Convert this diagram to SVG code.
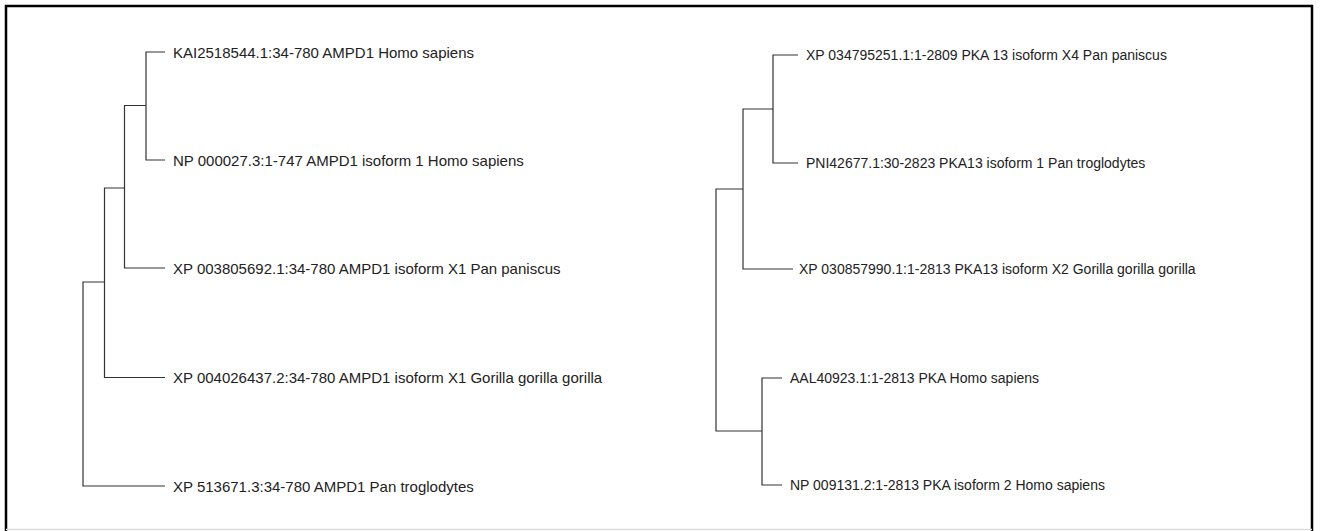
<svg xmlns="http://www.w3.org/2000/svg" width="1321" height="531" viewBox="0 0 1321 531">
  <style>
    .edge { fill: none; stroke: #333; stroke-width: 1.2; }
    .lbl { font-family: "Liberation Sans", Arial, sans-serif; font-size: 14px; fill: #222; }
    .lbl-l { font-size: 15px; }
    .frame { fill: none; stroke: #000; stroke-width: 2.5; }
  </style>
  <rect x="0" y="0" width="1321" height="531" fill="#fff"/>
  <g id="frame">
    <path class="frame" d="M6,531 V6 H1312 V531"/>
    <line x1="6" y1="529.5" x2="1312" y2="529.5" stroke="#ddd" stroke-width="1.5"/>
  </g>
  <g id="connectors">
    <!-- left tree -->
    <path class="edge" d="M165,52 H146 V160 H165"/>
    <path class="edge" d="M146,105.5 H124.5 V268 H165"/>
    <path class="edge" d="M124.5,188 H104.5 V377.5 H165"/>
    <path class="edge" d="M104.5,282 H83 V486 H165"/>
    <!-- right tree -->
    <path class="edge" d="M798,55 H773 V163 H798"/>
    <path class="edge" d="M773,109 H743 V269 H793"/>
    <path class="edge" d="M743,189 H716 V431 H762"/>
    <path class="edge" d="M782,378 H762 V485 H782"/>
  </g>
  <g id="leaf-KAI2518544"><text class="lbl lbl-l" x="173" y="57.5">KAI2518544.1:34-780 AMPD1 Homo sapiens</text></g>
  <g id="leaf-NP000027"><text class="lbl lbl-l" x="173" y="165.5">NP 000027.3:1-747 AMPD1 isoform 1 Homo sapiens</text></g>
  <g id="leaf-XP003805692"><text class="lbl lbl-l" x="173" y="273.5">XP 003805692.1:34-780 AMPD1 isoform X1 Pan paniscus</text></g>
  <g id="leaf-XP004026437"><text class="lbl lbl-l" x="173" y="383">XP 004026437.2:34-780 AMPD1 isoform X1 Gorilla gorilla gorilla</text></g>
  <g id="leaf-XP513671"><text class="lbl lbl-l" x="173" y="491.5">XP 513671.3:34-780 AMPD1 Pan troglodytes</text></g>
  <g id="leaf-XP034795251"><text class="lbl" x="806" y="60">XP 034795251.1:1-2809 PKA 13 isoform X4 Pan paniscus</text></g>
  <g id="leaf-PNI42677"><text class="lbl" x="806" y="168">PNI42677.1:30-2823 PKA13 isoform 1 Pan troglodytes</text></g>
  <g id="leaf-XP030857990"><text class="lbl" x="799" y="274">XP 030857990.1:1-2813 PKA13 isoform X2 Gorilla gorilla gorilla</text></g>
  <g id="leaf-AAL40923"><text class="lbl" x="790" y="383">AAL40923.1:1-2813 PKA Homo sapiens</text></g>
  <g id="leaf-NP009131"><text class="lbl" x="790" y="490">NP 009131.2:1-2813 PKA isoform 2 Homo sapiens</text></g>
</svg>
